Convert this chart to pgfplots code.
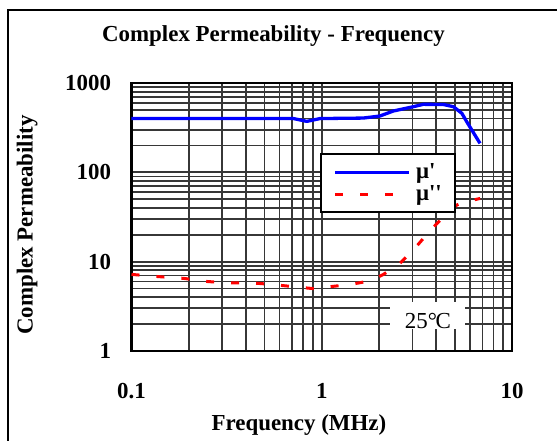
\documentclass[border=0pt]{standalone}
\usepackage{fontspec}
\setmainfont{Liberation Serif}
\usepackage{pgfplots}
\pgfplotsset{compat=1.18}
\definecolor{gridgray}{RGB}{55,55,55}
\begin{document}
\begin{tikzpicture}
\useasboundingbox (0,0) rectangle (557bp,441bp);
\fill[white] (0,0) rectangle (557bp,441bp);
\draw[line width=2bp] (7.5bp,-10bp) -- (7.5bp,431bp) -- (570bp,431bp);
\begin{axis}[
  at={(131.5bp,90bp)}, anchor=south west,
  scale only axis, width=380.5bp, height=268bp,
  xmode=log, ymode=log, xmin=0.1, xmax=10, ymin=1, ymax=1000,
  xtick={0.1,1,10}, xticklabels={0.1,1,10},
  ytick={1,10,100,1000}, yticklabels={1,10,100,1000},
  grid=both,
  major grid style={gridgray, line width=1.8bp},
  minor grid style={gridgray, line width=1.8bp},
  axis line style={black, line width=2.2bp},
  major tick length=0pt, minor tick length=0pt,
  tick label style={font=\bfseries\fontsize{23}{26}\selectfont},
  xticklabel style={yshift=-29bp},
  yticklabel style={xshift=-17bp},
  title={Complex Permeability - Frequency},
  title style={at={(axis description cs:0.373,1.170)}, anchor=base, yshift=-10bp, font=\bfseries\fontsize{23}{26}\selectfont},
  xlabel={Frequency (MHz)},
  xlabel style={at={(axis description cs:0.44,-0.297)}, anchor=base, font=\bfseries\fontsize{23}{26}\selectfont},
  ylabel={Complex Permeability},
  ylabel style={at={(axis description cs:-0.2597,0.47)}, anchor=base, font=\bfseries\fontsize{23}{26}\selectfont},
  legend image code/.code={\draw[#1] (0bp,-1bp) -- (74bp,-1bp);},
  legend style={at={(axis description cs:0.4954,0.7388)}, anchor=north west,
    draw=black, line width=1.5bp, fill=white,
    inner xsep=13bp, inner ysep=7bp, column sep=5bp, row sep=0bp,
    nodes={inner sep=0bp, text height=18bp, text depth=4bp},
    font=\bfseries\fontsize{23}{26}\selectfont},
  legend cell align=left,
]
\addplot[blue, line width=3.3bp, line join=round] coordinates {
  (0.1,400) (0.71,400) (0.835,372) (0.98,400) (1.65,405) (2.02,427)
  (2.38,486) (3.03,543) (3.42,577) (4.35,575) (4.92,543) (5.45,458)
  (5.78,369) (6.79,211)
};
\addlegendentry{μ\textquotesingle}
\addplot[red, line width=3bp, dash pattern=on 8bp off 17bp] coordinates {
  (0.1,7.2) (0.139,6.8) (0.188,6.5) (0.25,6.0) (0.31,5.8) (0.42,5.8)
  (0.526,5.6) (0.71,5.25) (0.94,4.95) (1.06,5.2) (1.41,5.55) (1.8,6.1)
  (2.11,7.2) (2.58,9.6) (3.03,13.5) (3.66,21.5) (4.54,34.8) (5.12,43)
  (5.6,46.5) (6.8,51)
};
\addlegendentry{μ\textquotesingle\textquotesingle}
\node[fill=white, inner sep=0pt, text height=27bp, text depth=0pt,
  minimum width=75bp, anchor=base, font=\fontsize{23}{26}\selectfont]
  at (axis description cs:0.779,0.0821) {25°\kern-1.5bp C};
\end{axis}
\end{tikzpicture}
\end{document}
